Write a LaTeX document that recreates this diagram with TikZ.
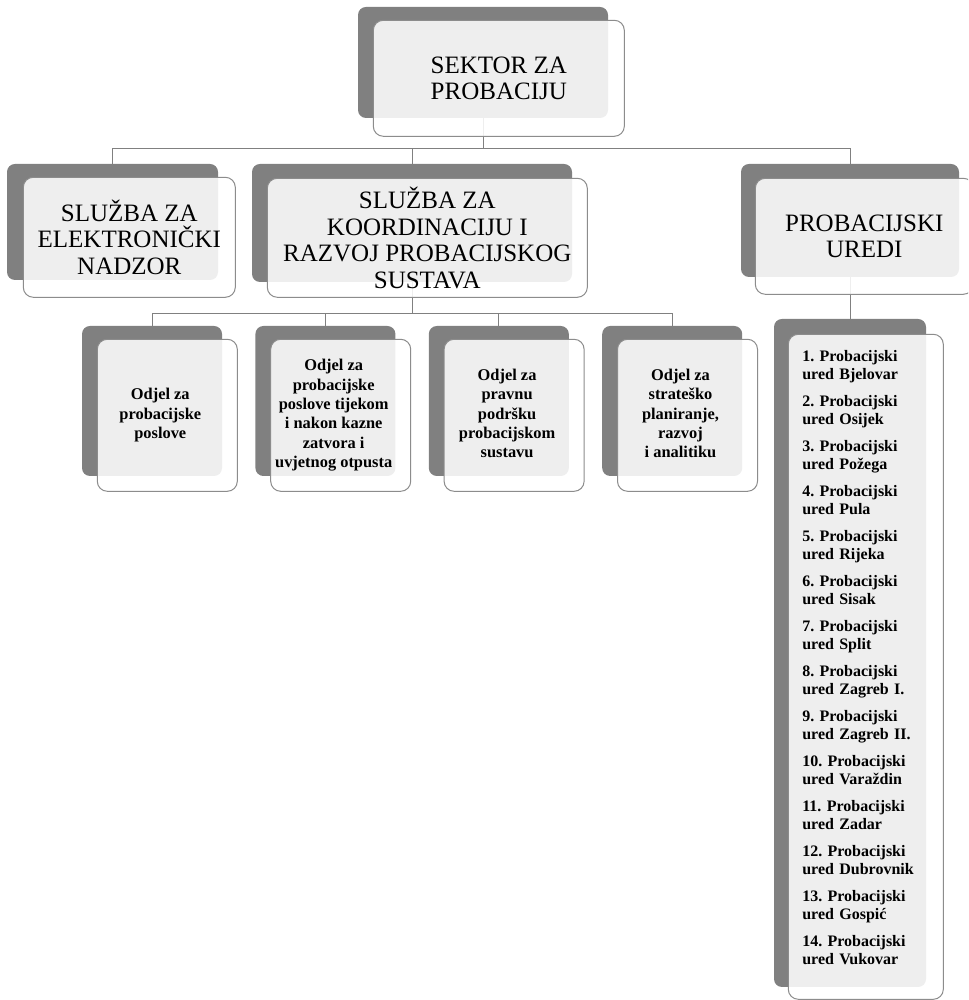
\documentclass[tikz,border=0pt]{standalone}
\usepackage{fontspec}
\setmainfont{Liberation Serif}
\frenchspacing
\usetikzlibrary{positioning}

\begin{document}
\begin{tikzpicture}
   [
      x=1pt, y=1pt,
      % Style for the dark plate behind every box
      back box/.style={rectangle, rounded corners=8pt, fill=gray, inner sep=0pt},
      % Style for the light card laid over the plate (half see-through)
      front box/.style={rectangle, rounded corners=10pt, draw=black!45, line width=1pt, fill=white, fill opacity=0.87, text opacity=1, inner sep=0pt, align=center},
      % Style for the connectors of the chart
      link/.style={black!50, line width=1pt},
      % Text sizes for the three kinds of boxes
      head text/.style={font=\fontsize{25}{26.5}\selectfont},
      dept text/.style={font=\fontsize{16.4}{19.3}\selectfont\bfseries},
      list text/.style={font=\fontsize{16}{18.3}\selectfont\bfseries}
   ]

    \useasboundingbox (0,0) rectangle (968,1000);
    \clip (0,0) rectangle (968,1000);
    \fill[white] (0,0) rectangle (968,1000);

    % =======================================================
    % Back plates
    % =======================================================

    % Top: the sector
    \node[back box, minimum width=250pt, minimum height=111pt] (sektor_back) at (483,937.5) {};

    % Second row: the two services and the offices
    \node[back box, minimum width=211pt, minimum height=116pt] (nadzor_back) at (112.5,778) {};
    \node[back box, minimum width=320pt, minimum height=118pt] (koord_back) at (412,777) {};
    \node[back box, minimum width=218pt, minimum height=113pt] (uredi_back) at (850,779.5) {};

    % Third row: the four departments, side by side
    \node[back box, minimum width=140pt, minimum height=150pt] (odjel1_back) at (152,599) {};
    \node[back box, minimum width=140pt, minimum height=150pt, right=33pt of odjel1_back] (odjel2_back) {};
    \node[back box, minimum width=140pt, minimum height=150pt, right=33pt of odjel2_back] (odjel3_back) {};
    \node[back box, minimum width=140pt, minimum height=150pt, right=33pt of odjel3_back] (odjel4_back) {};

    % Long list of the probation offices
    \node[back box, minimum width=152pt, minimum height=668pt] (popis_back) at (850,347) {};

    % =======================================================
    % Connectors
    % =======================================================

    \draw[link] (sektor_back.south) -- ++(0,-30) -| (nadzor_back.north);
    \draw[link] (sektor_back.south) -- ++(0,-30) -| (koord_back.north);
    \draw[link] (sektor_back.south) -- ++(0,-30) -| (uredi_back.north);

    \draw[link] (koord_back.south) -- ++(0,-31) -| (odjel1_back.north);
    \draw[link] (koord_back.south) -- ++(0,-31) -| (odjel2_back.north);
    \draw[link] (koord_back.south) -- ++(0,-31) -| (odjel3_back.north);
    \draw[link] (koord_back.south) -- ++(0,-31) -| (odjel4_back.north);

    \draw[link] (uredi_back.south) -- (popis_back.north);

    % =======================================================
    % Front cards with the texts
    % =======================================================

    \node[front box, head text, minimum width=251pt, minimum height=116pt, below right=13pt and 15pt of sektor_back.north west] (sektor_card) {SEKTOR ZA\\PROBACIJU};

    \node[front box, head text, minimum width=212pt, minimum height=120pt, below right=13pt and 16pt of nadzor_back.north west] (nadzor_card) {SLUŽBA ZA\\ELEKTRONIČKI\\NADZOR};
    \node[front box, head text, minimum width=320pt, minimum height=119pt, below right=14pt and 15pt of koord_back.north west] (koord_card) {SLUŽBA ZA\\KOORDINACIJU I\\RAZVOJ PROBACIJSKOG\\SUSTAVA};
    \node[front box, head text, minimum width=218pt, minimum height=116pt, below right=14pt and 14pt of uredi_back.north west] (uredi_card) {PROBACIJSKI\\UREDI};

    % Department texts sit a little left of the card centre
    \node[front box, dept text, minimum width=140pt, minimum height=152pt, below right=13pt and 15pt of odjel1_back.north west] (odjel1_card) {\hspace*{-14pt}\begin{tabular}{@{}c@{}}Odjel za\\probacijske\\poslove\end{tabular}};
    \node[front box, dept text, minimum width=140pt, minimum height=152pt, below right=13pt and 15pt of odjel2_back.north west] (odjel2_card) {\hspace*{-14pt}\begin{tabular}{@{}c@{}}Odjel za\\probacijske\\poslove tijekom\\i nakon kazne\\zatvora i\\uvjetnog otpusta\end{tabular}};
    \node[front box, dept text, minimum width=140pt, minimum height=152pt, below right=13pt and 15pt of odjel3_back.north west] (odjel3_card) {\hspace*{-14pt}\begin{tabular}{@{}c@{}}Odjel za\\pravnu\\podršku\\probacijskom\\sustavu\end{tabular}};
    \node[front box, dept text, minimum width=140pt, minimum height=152pt, below right=13pt and 15pt of odjel4_back.north west] (odjel4_card) {\hspace*{-14pt}\begin{tabular}{@{}c@{}}Odjel za\\strateško\\planiranje,\\razvoj\\i analitiku\end{tabular}};

    % The offices, left aligned
    \node[front box, list text, minimum width=155pt, minimum height=665pt, text width=127pt, inner xsep=14pt, align=left, below right=15pt and 14pt of popis_back.north west] (popis_card)
      {1. Probacijski\\ured Bjelovar\\[8.4pt]
       2. Probacijski\\ured Osijek\\[8.4pt]
       3. Probacijski\\ured Požega\\[8.4pt]
       4. Probacijski\\ured Pula\\[8.4pt]
       5. Probacijski\\ured Rijeka\\[8.4pt]
       6. Probacijski\\ured Sisak\\[8.4pt]
       7. Probacijski\\ured Split\\[8.4pt]
       8. Probacijski\\ured Zagreb I.\\[8.4pt]
       9. Probacijski\\ured Zagreb II.\\[8.4pt]
       10. Probacijski\\ured Varaždin\\[8.4pt]
       11. Probacijski\\ured Zadar\\[8.4pt]
       12. Probacijski\\ured Dubrovnik\\[8.4pt]
       13. Probacijski\\ured Gospić\\[8.4pt]
       14. Probacijski\\ured Vukovar\\[0pt]
       \mbox{}};

\end{tikzpicture}
\end{document}
